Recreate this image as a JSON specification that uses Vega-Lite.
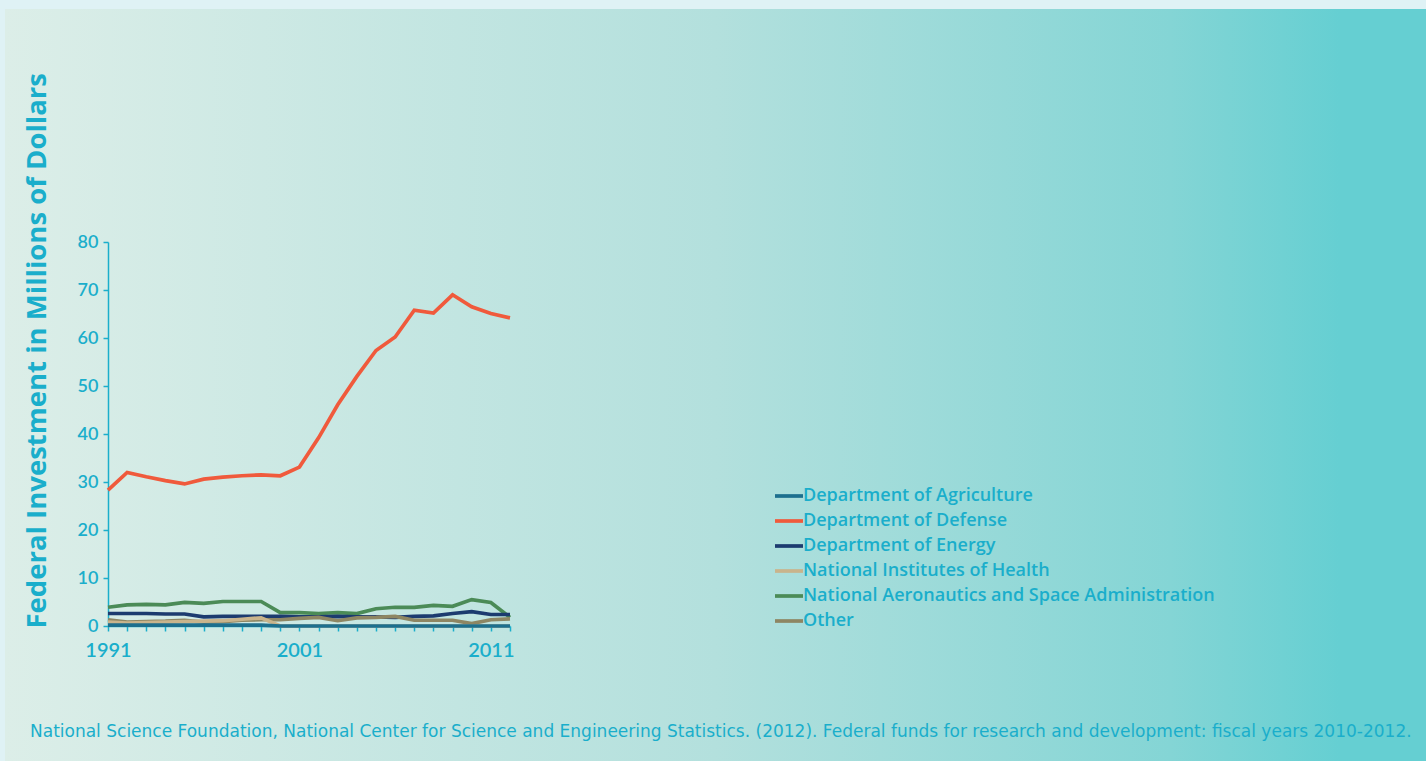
{
  "$schema": "https://vega.github.io/schema/vega-lite/v6.json",
  "width": 1421,
  "height": 752,
  "autosize": {"type": "none"},
  "padding": {"left": 5, "top": 9, "right": 0, "bottom": 0},
  "background": "#dff2f5",
  "view": {
    "stroke": null,
    "fill": {
      "gradient": "linear",
      "x1": 0, "y1": 0, "x2": 1, "y2": 0,
      "stops": [
        {"offset": 0, "color": "#dceee8"},
        {"offset": 0.5, "color": "#b3e0dd"},
        {"offset": 0.82, "color": "#84d5d5"},
        {"offset": 0.94, "color": "#65cfd2"},
        {"offset": 1, "color": "#65cfd2"}
      ]
    }
  },
  "title": {
    "text": "National Science Foundation, National Center for Science and Engineering Statistics. (2012). Federal funds for research and development: fiscal years 2010-2012.",
    "orient": "bottom",
    "anchor": "start",
    "frame": "group",
    "dx": 25,
    "offset": -37,
    "font": "DejaVu Sans",
    "fontSize": 17,
    "fontWeight": "normal",
    "color": "#1aaecb"
  },
  "data": {
    "values": [
      {"year": 1991, "agency": "Department of Defense", "value": 28.3},
      {"year": 1992, "agency": "Department of Defense", "value": 32.0},
      {"year": 1993, "agency": "Department of Defense", "value": 31.1},
      {"year": 1994, "agency": "Department of Defense", "value": 30.3},
      {"year": 1995, "agency": "Department of Defense", "value": 29.6},
      {"year": 1996, "agency": "Department of Defense", "value": 30.6},
      {"year": 1997, "agency": "Department of Defense", "value": 31.0},
      {"year": 1998, "agency": "Department of Defense", "value": 31.3},
      {"year": 1999, "agency": "Department of Defense", "value": 31.5},
      {"year": 2000, "agency": "Department of Defense", "value": 31.3},
      {"year": 2001, "agency": "Department of Defense", "value": 33.1},
      {"year": 2002, "agency": "Department of Defense", "value": 39.2},
      {"year": 2003, "agency": "Department of Defense", "value": 46.1},
      {"year": 2004, "agency": "Department of Defense", "value": 52.0},
      {"year": 2005, "agency": "Department of Defense", "value": 57.4},
      {"year": 2006, "agency": "Department of Defense", "value": 60.2},
      {"year": 2007, "agency": "Department of Defense", "value": 65.8},
      {"year": 2008, "agency": "Department of Defense", "value": 65.2},
      {"year": 2009, "agency": "Department of Defense", "value": 69.0},
      {"year": 2010, "agency": "Department of Defense", "value": 66.5},
      {"year": 2011, "agency": "Department of Defense", "value": 65.1},
      {"year": 2012, "agency": "Department of Defense", "value": 64.2},

      {"year": 1991, "agency": "National Aeronautics and Space Administration", "value": 3.9},
      {"year": 1992, "agency": "National Aeronautics and Space Administration", "value": 4.4},
      {"year": 1993, "agency": "National Aeronautics and Space Administration", "value": 4.5},
      {"year": 1994, "agency": "National Aeronautics and Space Administration", "value": 4.4},
      {"year": 1995, "agency": "National Aeronautics and Space Administration", "value": 4.9},
      {"year": 1996, "agency": "National Aeronautics and Space Administration", "value": 4.7},
      {"year": 1997, "agency": "National Aeronautics and Space Administration", "value": 5.1},
      {"year": 1998, "agency": "National Aeronautics and Space Administration", "value": 5.1},
      {"year": 1999, "agency": "National Aeronautics and Space Administration", "value": 5.1},
      {"year": 2000, "agency": "National Aeronautics and Space Administration", "value": 2.8},
      {"year": 2001, "agency": "National Aeronautics and Space Administration", "value": 2.8},
      {"year": 2002, "agency": "National Aeronautics and Space Administration", "value": 2.6},
      {"year": 2003, "agency": "National Aeronautics and Space Administration", "value": 2.8},
      {"year": 2004, "agency": "National Aeronautics and Space Administration", "value": 2.6},
      {"year": 2005, "agency": "National Aeronautics and Space Administration", "value": 3.6},
      {"year": 2006, "agency": "National Aeronautics and Space Administration", "value": 3.9},
      {"year": 2007, "agency": "National Aeronautics and Space Administration", "value": 3.9},
      {"year": 2008, "agency": "National Aeronautics and Space Administration", "value": 4.3},
      {"year": 2009, "agency": "National Aeronautics and Space Administration", "value": 4.1},
      {"year": 2010, "agency": "National Aeronautics and Space Administration", "value": 5.5},
      {"year": 2011, "agency": "National Aeronautics and Space Administration", "value": 4.9},
      {"year": 2012, "agency": "National Aeronautics and Space Administration", "value": 1.8},

      {"year": 1991, "agency": "Department of Energy", "value": 2.6},
      {"year": 1992, "agency": "Department of Energy", "value": 2.6},
      {"year": 1993, "agency": "Department of Energy", "value": 2.6},
      {"year": 1994, "agency": "Department of Energy", "value": 2.5},
      {"year": 1995, "agency": "Department of Energy", "value": 2.5},
      {"year": 1996, "agency": "Department of Energy", "value": 1.9},
      {"year": 1997, "agency": "Department of Energy", "value": 2.0},
      {"year": 1998, "agency": "Department of Energy", "value": 2.0},
      {"year": 1999, "agency": "Department of Energy", "value": 2.0},
      {"year": 2000, "agency": "Department of Energy", "value": 2.0},
      {"year": 2001, "agency": "Department of Energy", "value": 1.9},
      {"year": 2002, "agency": "Department of Energy", "value": 1.9},
      {"year": 2003, "agency": "Department of Energy", "value": 2.0},
      {"year": 2004, "agency": "Department of Energy", "value": 1.9},
      {"year": 2005, "agency": "Department of Energy", "value": 1.9},
      {"year": 2006, "agency": "Department of Energy", "value": 1.8},
      {"year": 2007, "agency": "Department of Energy", "value": 2.0},
      {"year": 2008, "agency": "Department of Energy", "value": 2.1},
      {"year": 2009, "agency": "Department of Energy", "value": 2.6},
      {"year": 2010, "agency": "Department of Energy", "value": 3.0},
      {"year": 2011, "agency": "Department of Energy", "value": 2.4},
      {"year": 2012, "agency": "Department of Energy", "value": 2.4},

      {"year": 1991, "agency": "Other", "value": 1.3},
      {"year": 1992, "agency": "Other", "value": 0.8},
      {"year": 1993, "agency": "Other", "value": 0.9},
      {"year": 1994, "agency": "Other", "value": 1.0},
      {"year": 1995, "agency": "Other", "value": 1.2},
      {"year": 1996, "agency": "Other", "value": 0.8},
      {"year": 1997, "agency": "Other", "value": 0.9},
      {"year": 1998, "agency": "Other", "value": 1.2},
      {"year": 1999, "agency": "Other", "value": 1.3},
      {"year": 2000, "agency": "Other", "value": 1.3},
      {"year": 2001, "agency": "Other", "value": 1.6},
      {"year": 2002, "agency": "Other", "value": 1.8},
      {"year": 2003, "agency": "Other", "value": 1.1},
      {"year": 2004, "agency": "Other", "value": 1.7},
      {"year": 2005, "agency": "Other", "value": 1.8},
      {"year": 2006, "agency": "Other", "value": 2.0},
      {"year": 2007, "agency": "Other", "value": 1.2},
      {"year": 2008, "agency": "Other", "value": 1.2},
      {"year": 2009, "agency": "Other", "value": 1.2},
      {"year": 2010, "agency": "Other", "value": 0.5},
      {"year": 2011, "agency": "Other", "value": 1.3},
      {"year": 2012, "agency": "Other", "value": 1.5},

      {"year": 1991, "agency": "National Institutes of Health", "value": 0.8},
      {"year": 1992, "agency": "National Institutes of Health", "value": 0.6},
      {"year": 1993, "agency": "National Institutes of Health", "value": 0.7},
      {"year": 1994, "agency": "National Institutes of Health", "value": 0.8},
      {"year": 1995, "agency": "National Institutes of Health", "value": 0.9},
      {"year": 1996, "agency": "National Institutes of Health", "value": 1.0},
      {"year": 1997, "agency": "National Institutes of Health", "value": 1.1},
      {"year": 1998, "agency": "National Institutes of Health", "value": 1.4},
      {"year": 1999, "agency": "National Institutes of Health", "value": 1.7},
      {"year": 2000, "agency": "National Institutes of Health", "value": 0.0},
      {"year": 2001, "agency": "National Institutes of Health", "value": 0.0},
      {"year": 2002, "agency": "National Institutes of Health", "value": 0.0},
      {"year": 2003, "agency": "National Institutes of Health", "value": 0.0},
      {"year": 2004, "agency": "National Institutes of Health", "value": 0.0},
      {"year": 2005, "agency": "National Institutes of Health", "value": 0.0},
      {"year": 2006, "agency": "National Institutes of Health", "value": 0.0},
      {"year": 2007, "agency": "National Institutes of Health", "value": 0.0},
      {"year": 2008, "agency": "National Institutes of Health", "value": 0.0},
      {"year": 2009, "agency": "National Institutes of Health", "value": 0.0},
      {"year": 2010, "agency": "National Institutes of Health", "value": 0.0},
      {"year": 2011, "agency": "National Institutes of Health", "value": 0.0},
      {"year": 2012, "agency": "National Institutes of Health", "value": 0.0},

      {"year": 1991, "agency": "Department of Agriculture", "value": 0.2},
      {"year": 1992, "agency": "Department of Agriculture", "value": 0.2},
      {"year": 1993, "agency": "Department of Agriculture", "value": 0.2},
      {"year": 1994, "agency": "Department of Agriculture", "value": 0.2},
      {"year": 1995, "agency": "Department of Agriculture", "value": 0.2},
      {"year": 1996, "agency": "Department of Agriculture", "value": 0.2},
      {"year": 1997, "agency": "Department of Agriculture", "value": 0.2},
      {"year": 1998, "agency": "Department of Agriculture", "value": 0.2},
      {"year": 1999, "agency": "Department of Agriculture", "value": 0.2},
      {"year": 2000, "agency": "Department of Agriculture", "value": 0.0},
      {"year": 2001, "agency": "Department of Agriculture", "value": 0.0},
      {"year": 2002, "agency": "Department of Agriculture", "value": 0.0},
      {"year": 2003, "agency": "Department of Agriculture", "value": 0.0},
      {"year": 2004, "agency": "Department of Agriculture", "value": 0.0},
      {"year": 2005, "agency": "Department of Agriculture", "value": 0.0},
      {"year": 2006, "agency": "Department of Agriculture", "value": 0.0},
      {"year": 2007, "agency": "Department of Agriculture", "value": 0.0},
      {"year": 2008, "agency": "Department of Agriculture", "value": 0.0},
      {"year": 2009, "agency": "Department of Agriculture", "value": 0.0},
      {"year": 2010, "agency": "Department of Agriculture", "value": 0.0},
      {"year": 2011, "agency": "Department of Agriculture", "value": 0.0},
      {"year": 2012, "agency": "Department of Agriculture", "value": 0.0}
    ]
  },
  "mark": {"type": "line", "strokeWidth": 3.7, "clip": false},
  "encoding": {
    "x": {
      "field": "year",
      "type": "quantitative",
      "scale": {"domain": [1991, 2012], "range": [103, 505], "nice": false, "zero": false},
      "axis": {
        "title": null,
        "offset": -135,
        "values": [1991,1992,1993,1994,1995,1996,1997,1998,1999,2000,2001,2002,2003,2004,2005,2006,2007,2008,2009,2010,2011,2012],
        "format": "d",
        "labelExpr": "(datum.value == 1991 || datum.value == 2001 || datum.value == 2011) ? datum.label : ''",
        "labelOverlap": false,
        "labelFlush": false,
        "grid": false,
        "domainColor": "#1aaecb",
        "domainWidth": 1.5,
        "tickColor": "#1aaecb",
        "tickSize": 5,
        "tickWidth": 1.5,
        "labelColor": "#1aaecb",
        "labelFont": "Lato",
        "labelFontSize": 20,
        "labelFontWeight": 600,
        "labelPadding": 9
      }
    },
    "y": {
      "field": "value",
      "type": "quantitative",
      "scale": {"domain": [0, 80], "range": [617, 233], "nice": false},
      "axis": {
        "title": "Federal Investment in Millions of Dollars",
        "offset": -103,
        "values": [0, 10, 20, 30, 40, 50, 60, 70, 80],
        "grid": false,
        "domainColor": "#1aaecb",
        "domainWidth": 1.5,
        "tickColor": "#1aaecb",
        "tickSize": 5,
        "tickWidth": 1.5,
        "labelColor": "#1aaecb",
        "labelFont": "Lato",
        "labelFontSize": 18,
        "labelFontWeight": 600,
        "labelPadding": 5,
        "titleColor": "#1aaecb",
        "titleFont": "Open Sans",
        "titleFontSize": 27.5,
        "titleFontWeight": "bold",
        "titleAngle": -90,
        "titleX": -71,
        "titleY": 619,
        "titleAlign": "left",
        "titleBaseline": "middle"
      }
    },
    "color": {
      "field": "agency",
      "type": "nominal",
      "scale": {
        "domain": ["Department of Agriculture", "Department of Defense", "Department of Energy", "National Institutes of Health", "National Aeronautics and Space Administration", "Other"],
        "range": ["#1d6f8e", "#f05a3c", "#1c3b6f", "#c9b48c", "#4b8b57", "#8e8663"]
      },
      "legend": {
        "title": null,
        "orient": "none",
        "legendX": 768,
        "legendY": 471,
        "symbolType": "stroke",
        "symbolSize": 784,
        "symbolStrokeWidth": 3.7,
        "rowPadding": -5,
        "labelOffset": -2,
        "labelColor": "#1aaecb",
        "labelFont": "Open Sans",
        "labelFontSize": 18,
        "labelFontWeight": 600,
        "labelLimit": 600
      }
    }
  }
}
